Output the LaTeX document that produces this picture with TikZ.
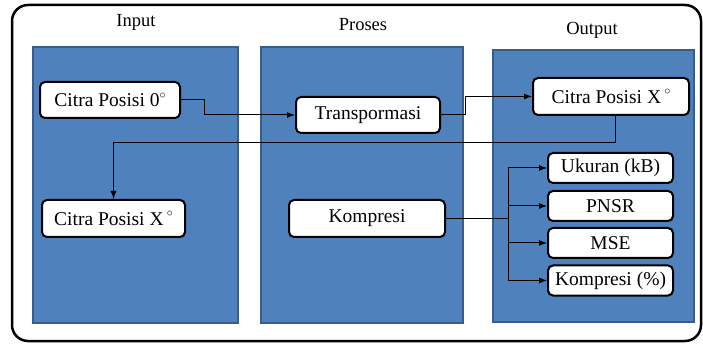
\documentclass[tikz,border=0pt]{standalone}
\usepackage{fontspec}
\setmainfont{Liberation Serif}
\usetikzlibrary{arrows.meta}
\definecolor{panelblue}{HTML}{4F81BD}
\definecolor{paneledge}{HTML}{385D8A}
\newcommand{\degsign}{\raisebox{0.42em}{\fontsize{13}{13}\selectfont$\circ$}}
\begin{document}
\begin{tikzpicture}[x=1pt,y=-1pt,
  panel/.style={draw=paneledge, line width=1.5pt, fill=panelblue, inner sep=0pt},
  box/.style={draw=black, line width=2pt, fill=white, rounded corners=5pt, inner sep=0pt,
    font=\fontsize{19.5}{21}\selectfont},
  title/.style={font=\fontsize{18.5}{20}\selectfont},
  conn/.style={line width=1pt},
  arr/.style={conn, -{Latex[length=8pt,width=6pt]}}]
\useasboundingbox (0,0) rectangle (703,344);
\draw[line width=2.5pt, rounded corners=16pt] (12,5) rectangle (701,341);
% panels
\node[panel, minimum width=205, minimum height=276] (pin) at (135.5,185) {};
\node[panel, minimum width=202, minimum height=276] (ppr) at (362,185) {};
\node[panel, minimum width=201, minimum height=272] (pout) at (593.5,186) {};
% titles
\node[title] (tin) at (136,22) {Input};
\node[title] (tpr) at (363,25) {Proses};
\node[title] (tout) at (592,30) {Output};
% boxes
\node[box, minimum width=140, minimum height=36] (c0) at (110,100) {Citra Posisi 0\degsign};
\node[box, minimum width=143, minimum height=37] (cxi) at (113.5,218.5) {Citra Posisi X\,\degsign};
\node[box, minimum width=144, minimum height=36] (tr) at (368,115) {Transpormasi};
\node[box, minimum width=156, minimum height=37] (ko) at (367,218.5) {Kompresi};
\node[box, minimum width=156, minimum height=37] (cxo) at (611,96.5) {Citra Posisi X\,\degsign};
\node[box, minimum width=125, minimum height=30] (uk) at (610.5,168) {Ukuran (kB)};
\node[box, minimum width=125, minimum height=30] (ps) at (610.5,206) {PNSR};
\node[box, minimum width=125, minimum height=30] (ms) at (610.5,243) {MSE};
\node[box, minimum width=125, minimum height=30] (kp) at (610.5,280.5) {Kompresi (\%)};
% connectors
\draw[arr] (c0.east) -- ++(23,0) |- (tr.west);
\draw[arr] (tr.east) -- ++(24,0) |- (cxo.west);
\coordinate (bend) at (615,143);
\draw[arr] ([xshift=4pt]cxo.south) -- (bend) -| (cxi.north);
\coordinate (split) at (508,218.5);
\draw[conn] (ko.east) -- (split);
\draw[arr] (split) |- (uk.west);
\draw[arr] (split) |- (ps.west);
\draw[arr] (split) |- (ms.west);
\draw[arr] (split) |- (kp.west);
\end{tikzpicture}
\end{document}
